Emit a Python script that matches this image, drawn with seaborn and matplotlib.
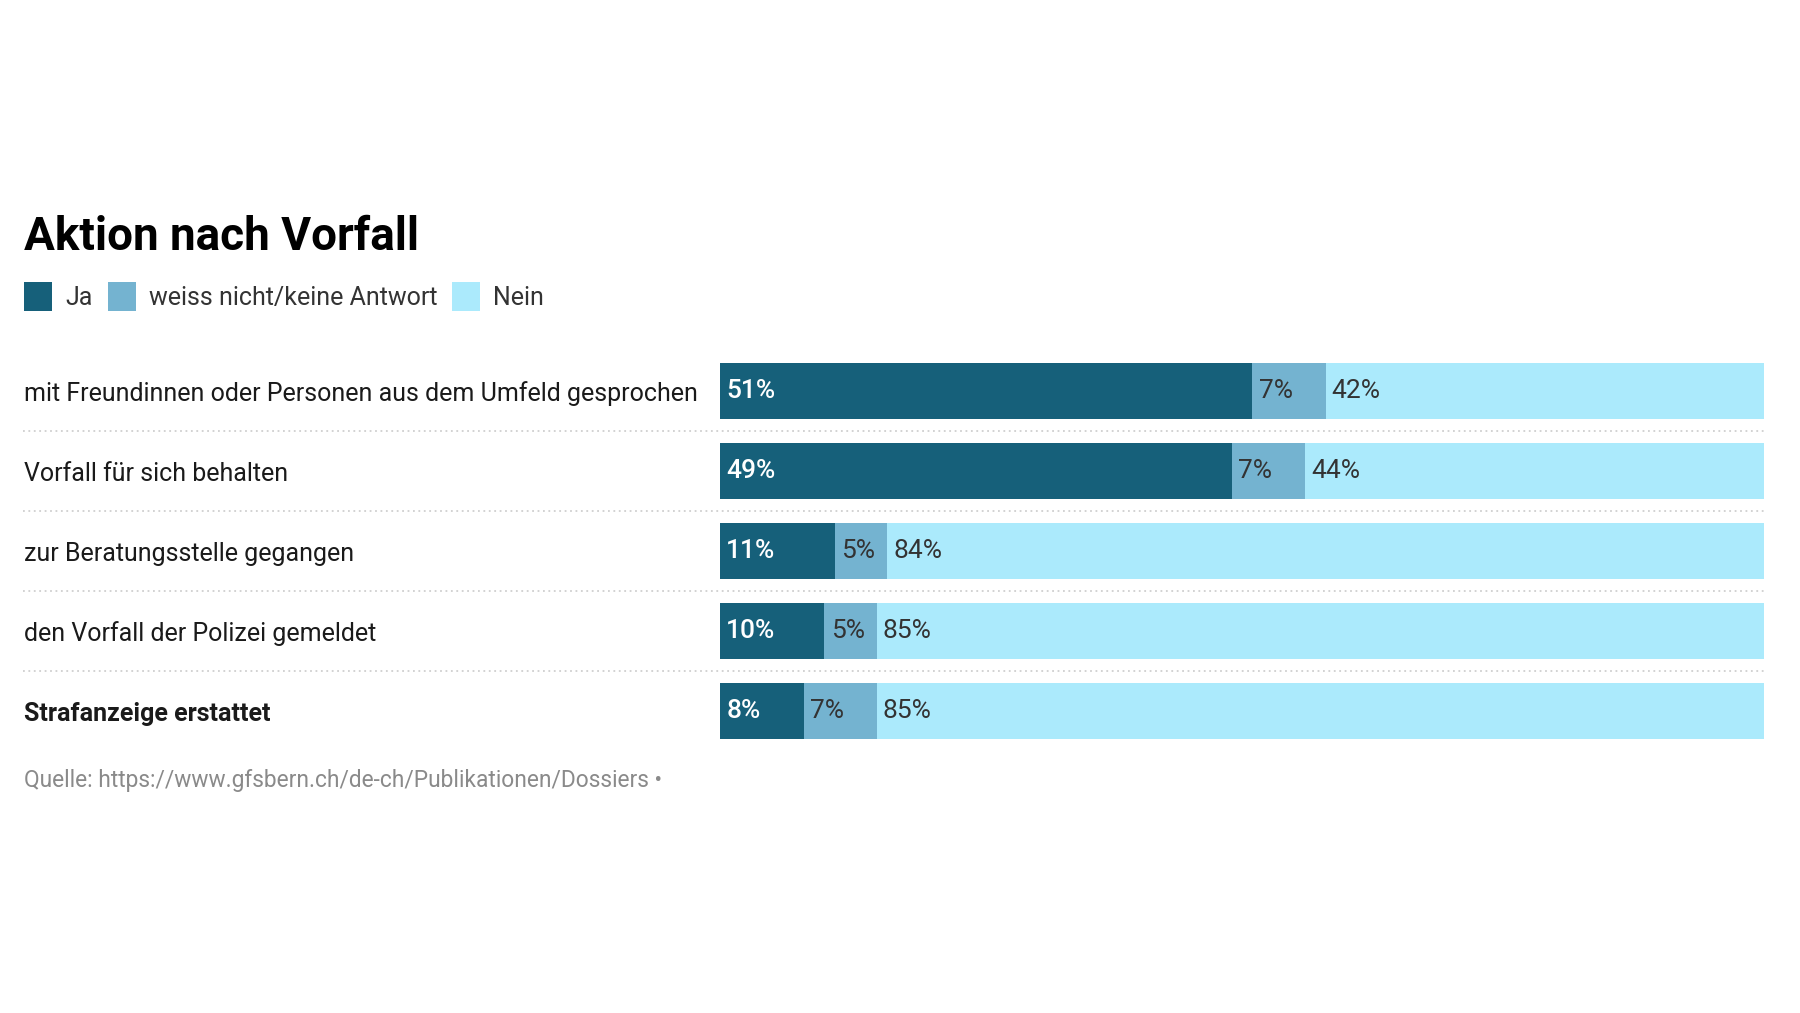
import pandas as pd
import matplotlib.pyplot as plt
import seaborn as sns
from matplotlib.patches import Patch

labels = [
    'mit Freundinnen oder Personen aus dem Umfeld gesprochen',
    'Vorfall für sich behalten',
    'zur Beratungsstelle gegangen',
    'den Vorfall der Polizei gemeldet',
    'Strafanzeige erstattet',
]
ja = [51, 49, 11, 10, 8]
weiss_nicht = [7, 7, 5, 5, 7]
nein = [42, 44, 84, 85, 85]
series_names = ['Ja', 'weiss nicht/keine Antwort', 'Nein']
colors = ['#16607a', '#74b3d0', '#abeafc']
title = 'Aktion nach Vorfall'
source = 'Quelle: https://www.gfsbern.ch/de-ch/Publikationen/Dossiers •'

df = pd.DataFrame({'label': labels, 'Ja': ja, 'weiss': weiss_nicht, 'Nein': nein})
df['cum1'] = df['Ja']
df['cum2'] = df['cum1'] + df['weiss']
df['cum3'] = df['cum2'] + df['Nein']

sns.set_theme(style='white')
plt.rcParams['font.family'] = ['Roboto', 'DejaVu Sans']

fig = plt.figure(figsize=(18, 10.13), dpi=100)
ax = fig.add_axes([0.4, 0.2586, 0.58, 0.3949])

# stacked bars: draw the totals first, then overlay the shorter sums
for col, color in zip(['cum3', 'cum2', 'cum1'], colors[::-1]):
    sns.barplot(data=df, x=col, y='label', orient='h', color=color,
                saturation=1, width=0.7, linewidth=0, ax=ax)

ax.set_xlim(0, 100)
ax.set_ylim(4.5, -0.5)
ax.set_xlabel('')
ax.set_ylabel('')
ax.set_xticks([])
sns.despine(ax=ax, left=True, bottom=True)

ax.set_yticks(range(len(labels)))
ax.set_yticklabels(labels, ha='left', fontsize=18, color='#1a1a1a')
ax.tick_params(axis='y', length=0, pad=501)
ax.get_yticklabels()[-1].set_fontweight('bold')

for i in range(len(labels)):
    starts = [0, df['cum1'][i], df['cum2'][i]]
    vals = [ja[i], weiss_nicht[i], nein[i]]
    for k, (s, v) in enumerate(zip(starts, vals)):
        ax.annotate(f'{v}%', xy=(s, i), xytext=(4.5, 0), textcoords='offset points',
                    va='center', ha='left', fontsize=19,
                    color='white' if k == 0 else '#333333',
                    fontweight='medium' if k == 0 else 'normal')

for y in [0.5, 1.5, 2.5, 3.5]:
    ax.axhline(y, xmin=-0.668, xmax=1, color='#cfcfcf', lw=1.3,
               ls=(0, (1, 2)), clip_on=False)

fig.text(0.0136, 1 - 250 / 1013, title, fontsize=33, fontweight='bold',
         va='baseline', color='black')

handles = [Patch(facecolor=c, edgecolor='none') for c in colors]
fig.legend(handles, series_names, loc='upper left',
           bbox_to_anchor=(0.0136, 1 - 282 / 1013), ncol=3, frameon=False,
           fontsize=18, handlelength=1.12, handleheight=1.38,
           handletextpad=0.52, columnspacing=0.6, borderpad=0,
           borderaxespad=0, labelcolor='#333333')

fig.text(0.0136, 1 - 781 / 1013, source, fontsize=16.4, color='#8a8a8a',
         va='center')

fig.savefig('out.png', dpi=100)
